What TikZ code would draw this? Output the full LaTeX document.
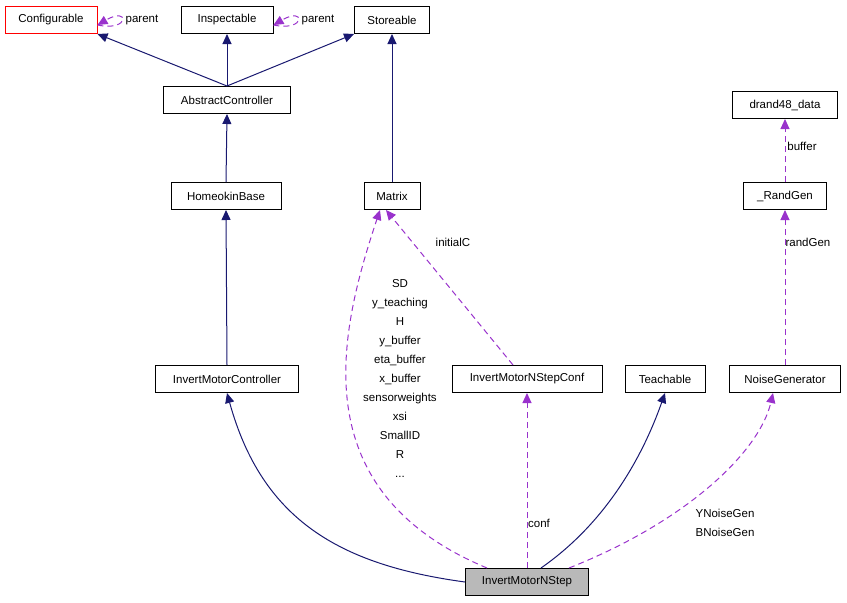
\documentclass[tikz,border=0pt]{standalone}
\usepackage{fontspec}
\setmainfont{Liberation Sans}
\usetikzlibrary{arrows.meta}
\begin{document}
\begin{tikzpicture}[x=1pt, y=-1pt, font=\fontsize{11.5}{19}\selectfont, line width=1pt,
    cls/.style={draw, fill=white, minimum height=27pt, inner xsep=6pt},
    inherit/.style={draw=midnightblue, -{Triangle[length=10pt,width=9pt,fill=midnightblue]}},
    use/.style={draw=darkorchid, dash pattern=on 6pt off 4pt, -{Triangle[length=10pt,width=9pt,fill=darkorchid]}}]
    \definecolor{midnightblue}{RGB}{25,25,112}
    \definecolor{darkorchid}{RGB}{153,50,204}
    \useasboundingbox (0,0) rectangle (847,603);
    % classes
    \node [cls, draw=red, minimum width=92pt] (cfg) at (51,20) {Configurable};
    \node [cls, minimum width=92pt] (insp) at (227,20) {Inspectable};
    \node [cls, minimum width=75pt] (store) at (392,20) {Storeable};
    \node [cls, minimum width=127pt] (actrl) at (227,100) {AbstractController};
    \node [cls, minimum width=110pt] (hbase) at (226,196) {HomeokinBase};
    \node [cls, minimum width=56pt] (matrix) at (392,196) {Matrix};
    \node [cls, minimum width=105pt] (drand) at (785,105) {drand48\_data};
    \node [cls, minimum width=83pt] (rgen) at (785,196) {\_RandGen};
    \node [cls, minimum width=143pt] (ictrl) at (227,379) {InvertMotorController};
    \node [cls, minimum width=150pt] (conf) at (527,379) {InvertMotorNStepConf};
    \node [cls, minimum width=80pt] (teach) at (665,379) {Teachable};
    \node [cls, minimum width=111pt] (noise) at (785,379) {NoiseGenerator};
    \node [cls, fill=gray!55, minimum width=123pt] (nstep) at (527,582) {InvertMotorNStep};
    % inheritance
    \draw [inherit] (actrl.north) -- (cfg.south east);
    \draw [inherit] (actrl.north) -- (insp.south);
    \draw [inherit] (actrl.north) -- (store.south west);
    \draw [inherit] (hbase.north) -- (actrl.south);
    \draw [inherit] (ictrl.north) -- (hbase.south);
    \draw [inherit] (matrix.north) -- (store.south);
    \draw [inherit] (nstep.west) .. controls (340,565) and (262,520) .. (ictrl.south);
    \draw [inherit] (nstep.north) ++(14,0) .. controls (610,520) and (645,450) .. (teach.south);
    % usage
    \draw [use] (cfg.east) ++(0,5) .. controls (130,32) and (130,6) .. ([yshift=-5pt]cfg.east);
    \node (lpar1) at (142,20) {parent};
    \draw [use] (insp.east) ++(0,5) .. controls (306,32) and (306,6) .. ([yshift=-5pt]insp.east);
    \node (lpar2) at (318,20) {parent};
    \draw [use] (nstep.north) ++(-40,0) .. controls (300,490) and (340,330) .. ([xshift=-12pt]matrix.south);
    \node [align=center, inner sep=0pt] (lmat) at (400,378) {SD\\y\_teaching\\H\\y\_buffer\\eta\_buffer\\x\_buffer\\sensorweights\\xsi\\SmallID\\R\\...};
    \draw [use] (conf.north) ++(-14,0) -- ([xshift=-6pt]matrix.south);
    \node (linit) at (453,242) {initialC};
    \draw [use] (nstep.north) -- (conf.south);
    \node (lconf) at (539,523) {conf};
    \draw [use] (nstep.north) ++(42,0) .. controls (690,520) and (760,450) .. ([xshift=-12pt]noise.south);
    \node [align=left, inner sep=0pt] (lnoise) at (725,523) {YNoiseGen\\BNoiseGen};
    \draw [use] (noise.north) -- (rgen.south);
    \node (lrand) at (808,242) {randGen};
    \draw [use] (rgen.north) -- (drand.south);
    \node (lbuf) at (802,146) {buffer};
\end{tikzpicture}
\end{document}
